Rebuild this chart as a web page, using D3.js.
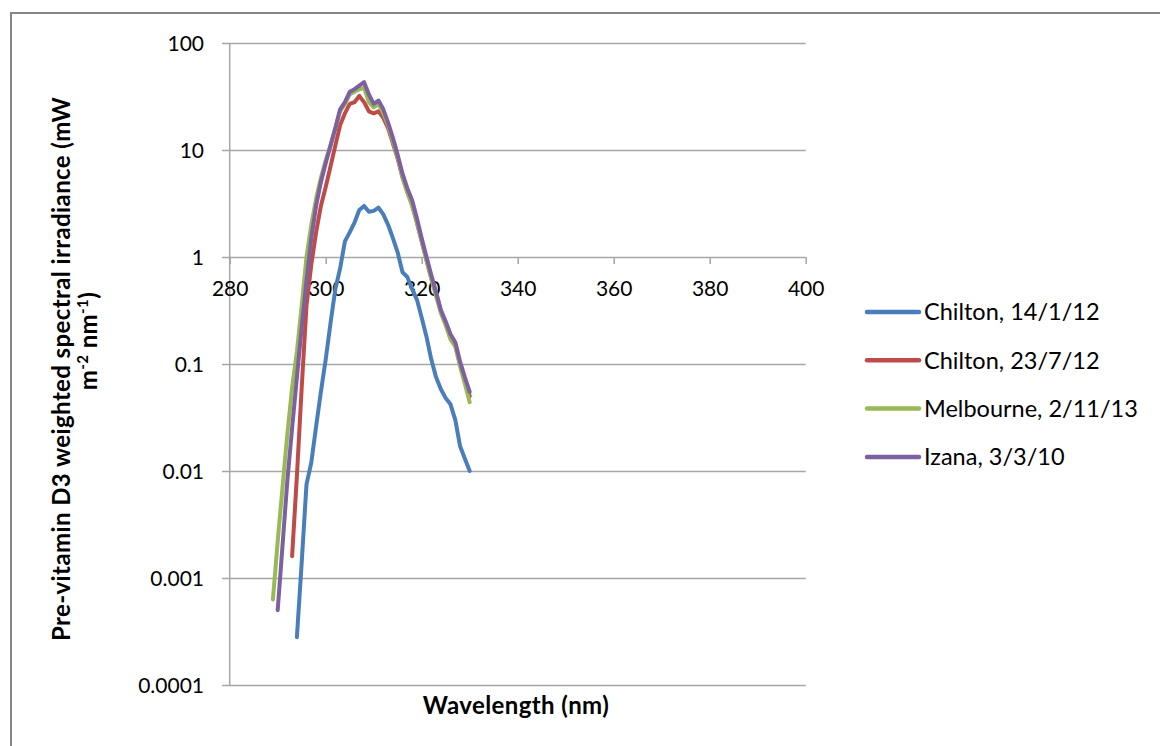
<!DOCTYPE html>
<html>
<head>
<meta charset="utf-8">
<script src="https://cdn.jsdelivr.net/npm/d3@7"></script>
<style>
  html, body { margin: 0; padding: 0; background: #fff; }
  svg { display: block; font-family: Lato, "Open Sans", sans-serif; }
</style>
</head>
<body>
<svg id="chart" width="1160" height="746"></svg>
<script>
// ---- data ----
const xTicks = [280, 300, 320, 340, 360, 380, 400];
const yTicks = [0.0001, 0.001, 0.01, 0.1, 1, 10, 100];
const yTickLabels = ["0.0001", "0.001", "0.01", "0.1", "1", "10", "100"];

const seriesNames = ["Chilton, 14/1/12", "Chilton, 23/7/12", "Melbourne, 2/11/13", "Izana, 3/3/10"];
const seriesColors = ["#4A7EBB", "#BE4B48", "#98B954", "#7D60A0"];

const chiltonJanWl = [294,295,296,297,298,299,300,301,302,303,304,305,306,307,308,309,310,311,312,313,314,315,316,317,318,319,320,321,322,323,324,325,326,327,328,329,330];
const chiltonJan  = [0.00028,0.0014,0.0075,0.012,0.026,0.055,0.11,0.24,0.5,0.78,1.4,1.7,2.1,2.75,3.0,2.65,2.7,2.9,2.5,2.0,1.5,1.1,0.72,0.65,0.5,0.4,0.27,0.18,0.11,0.075,0.058,0.048,0.042,0.03,0.017,0.013,0.01];

const chiltonJulWl = [293,294,295,296,297,298,299,300,301,302,303,304,305,306,307,308,309,310,311,312,313,314,315,316,317,318,319,320,321,322,323,324,325,326,327,328,329,330];
const chiltonJul  = [0.0016,0.009,0.06,0.35,0.85,1.7,3.0,4.5,7,11,17,22,27,28,32,28,23,22,23,20,16,11.5,8.3,5.6,4.1,3.1,2.1,1.4,0.95,0.64,0.45,0.31,0.24,0.18,0.15,0.1,0.07,0.05];

const melbourneWl = [289,290,291,292,293,294,295,296,297,298,299,300,301,302,303,304,305,306,307,308,309,310,311,312,313,314,315,316,317,318,319,320,321,322,323,324,325,326,327,328,329,330];
const melbourne  = [0.00063,0.0022,0.007,0.022,0.06,0.13,0.35,1.0,2.0,3.5,5.5,8,11,16,23,27,33,35,37,38,28,25,27,22,17,12,8.5,5.5,4.0,3.0,2.1,1.4,0.92,0.62,0.43,0.3,0.23,0.17,0.145,0.095,0.065,0.044];

const izanaWl = [290,291,292,293,294,295,296,297,298,299,300,301,302,303,304,305,306,307,308,309,310,311,312,313,314,315,316,317,318,319,320,321,322,323,324,325,326,327,328,329,330];
const izana  = [0.0005,0.002,0.008,0.025,0.075,0.22,0.6,1.5,3.0,5.0,7.5,11,16,24,28,35,37,40,43,33,27,29,24,18,13,9,6,4.4,3.4,2.3,1.5,1.0,0.68,0.47,0.32,0.25,0.19,0.16,0.105,0.075,0.055];

const seriesWl = [chiltonJanWl, chiltonJulWl, melbourneWl, izanaWl];
const seriesVals = [chiltonJan, chiltonJul, melbourne, izana];

// ---- layout ----
const svg = d3.select("#chart");
const x = d3.scaleLinear().domain([280, 400]).range([229.7, 805.7]);
const y = d3.scaleLog().domain([0.0001, 100]).range([685, 43]);
const gridColor = "#A6A6A6";

// outer frame
svg.append("rect").attr("x", 11).attr("y", 13).attr("width", 1160).attr("height", 760)
  .attr("fill", "none").attr("stroke", "#868686").attr("stroke-width", 2);

// horizontal gridlines with outward ticks
const yAxis = d3.axisLeft(y).tickValues(yTicks).tickSize(-(805.7 - 222)).tickPadding(0)
  .tickFormat((d, i) => yTickLabels[i]);
const gy = svg.append("g").attr("transform", "translate(222,0)").call(yAxis);
gy.select(".domain").remove();
gy.selectAll(".tick line").attr("stroke", gridColor).attr("stroke-width", 1.5);
gy.selectAll(".tick text").attr("x", -18).attr("fill", "#000").attr("font-size", 21)
  .attr("font-family", "Lato, sans-serif").attr("dy", "0.35em");

// vertical axis line
svg.append("line").attr("x1", x(280)).attr("x2", x(280)).attr("y1", y(100)).attr("y2", y(0.0001))
  .attr("stroke", gridColor).attr("stroke-width", 1.5);

// x axis crossing at 1
const xAxis = d3.axisBottom(x).tickValues(xTicks).tickSize(7).tickPadding(17).tickFormat(d3.format("d"));
const gx = svg.append("g").attr("transform", `translate(0,${y(1)})`).call(xAxis);
gx.select(".domain").remove();
gx.selectAll(".tick line").attr("stroke", gridColor).attr("stroke-width", 1.5);
gx.selectAll(".tick text").attr("fill", "#000").attr("font-size", 21).attr("font-family", "Lato, sans-serif");

// series lines
const line = d3.line().x(d => x(d[0])).y(d => y(d[1]));
seriesVals.forEach((vals, i) => {
  const pts = vals.map((v, j) => [seriesWl[i][j], v]);
  svg.append("path").datum(pts).attr("d", line)
    .attr("fill", "none").attr("stroke", seriesColors[i]).attr("stroke-width", 4)
    .attr("stroke-linejoin", "round").attr("stroke-linecap", "round");
});

// legend
const legend = svg.append("g");
seriesNames.forEach((name, i) => {
  const ly = 312 + i * 48.3;
  legend.append("line").attr("x1", 867).attr("x2", 919).attr("y1", ly).attr("y2", ly)
    .attr("stroke", seriesColors[i]).attr("stroke-width", 4.5).attr("stroke-linecap", "round");
  legend.append("text").attr("x", 924).attr("y", ly).attr("dy", "0.35em")
    .attr("font-size", 23.5).attr("fill", "#000").text(name);
});

// axis titles
svg.append("text").attr("x", 516).attr("y", 706).attr("dy", "0.35em").attr("text-anchor", "middle")
  .attr("font-weight", "bold").attr("font-size", 24).attr("letter-spacing", 0.4).text("Wavelength (nm)");

const t1 = svg.append("text").attr("transform", "translate(62,369) rotate(-90)")
  .attr("text-anchor", "middle").attr("dy", "0.35em").attr("font-weight", "bold").attr("font-size", 24)
  .attr("letter-spacing", 0.4)
  .text("Pre-vitamin D3 weighted spectral irradiance (mW");
const t2 = svg.append("text").attr("transform", "translate(89,341) rotate(-90)")
  .attr("text-anchor", "middle").attr("dy", "0.35em").attr("font-weight", "bold").attr("font-size", 24)
  .attr("letter-spacing", 0.4);
t2.append("tspan").text("m");
t2.append("tspan").attr("baseline-shift", "super").attr("font-size", 15).text("-2");
t2.append("tspan").text(" nm");
t2.append("tspan").attr("baseline-shift", "super").attr("font-size", 15).text("-1");
t2.append("tspan").text(")");
</script>
</body>
</html>
